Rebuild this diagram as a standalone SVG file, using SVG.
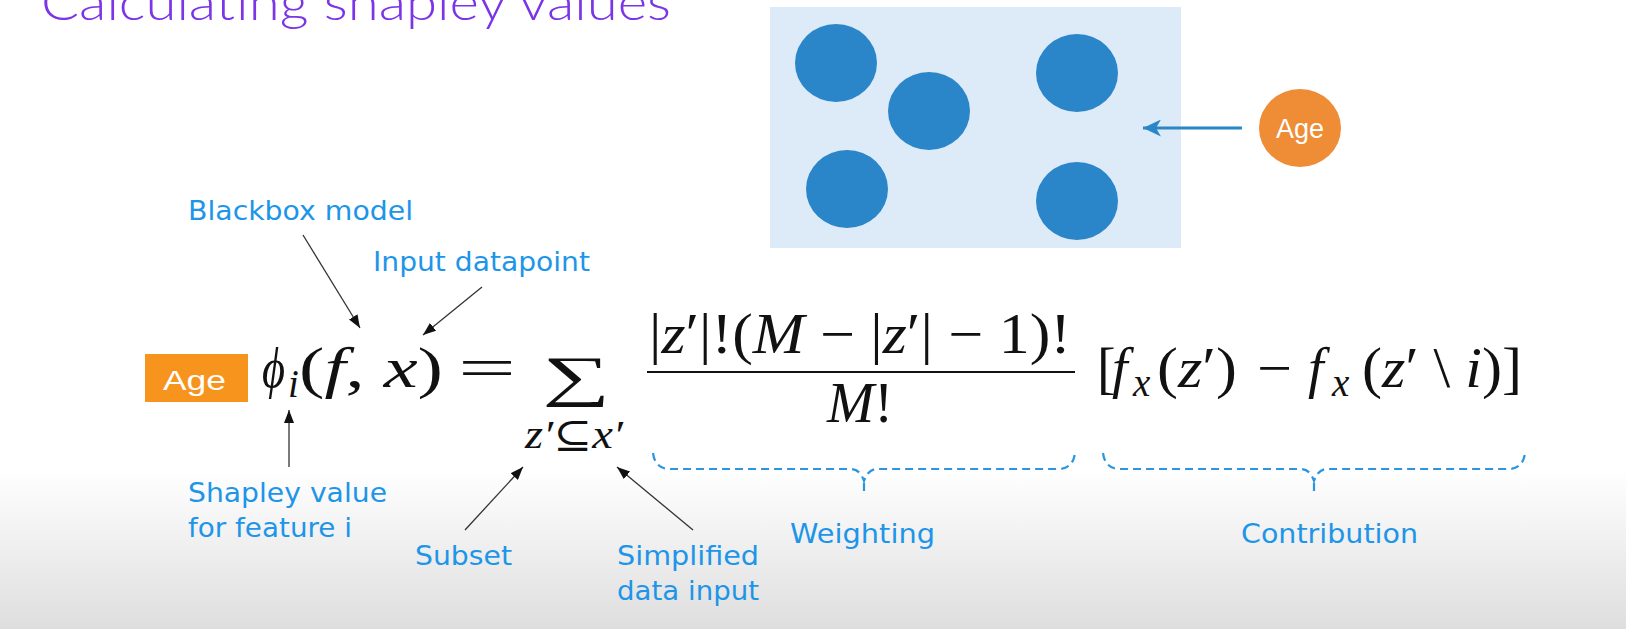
<svg xmlns="http://www.w3.org/2000/svg" width="1626" height="629" viewBox="0 0 1626 629">
<style>
.lbl{font-family:"DejaVu Sans","Liberation Sans",sans-serif;font-size:27px;fill:#1d95e8}
.math{font-family:"Liberation Serif","DejaVu Serif",serif;font-size:56px;fill:#111}
.sub{font-family:"Liberation Serif","DejaVu Serif",serif;font-size:39px;fill:#111;font-style:italic}
.it{font-style:italic}
.ann{stroke:#333;stroke-width:1.3;fill:none}
.brace{stroke:#2a95e0;stroke-width:2.2;fill:none;stroke-dasharray:8 5}
.dot{fill:#2a86c8}
</style>
<defs>
<linearGradient id="bg" x1="0" y1="0" x2="0" y2="1">
<stop offset="0" stop-color="#ffffff"/>
<stop offset="1" stop-color="#dedede"/>
</linearGradient>
<marker id="ah" markerUnits="userSpaceOnUse" markerWidth="13" markerHeight="10" refX="13" refY="5" orient="auto">
<path d="M0,0 L13,5 L0,10 z" fill="#111"/>
</marker>
<marker id="ahb" markerUnits="userSpaceOnUse" markerWidth="19" markerHeight="17" refX="18" refY="8.5" orient="auto">
<path d="M0,0 L18,8.5 L0,17 L5,8.5 z" fill="#2a86c8"/>
</marker>
</defs>
<rect x="0" y="0" width="1626" height="629" fill="#ffffff"/>
<rect x="0" y="470" width="1626" height="159" fill="url(#bg)"/>

<text id="title" x="41" y="20" font-family="Lato,'Open Sans',sans-serif" font-weight="300" font-size="50" fill="#7b34e6" textLength="630" lengthAdjust="spacingAndGlyphs">Calculating shapley values</text>

<g id="dataset">
<rect x="770" y="7" width="411" height="241" fill="#ddeaf7"/>
<ellipse class="dot" cx="836" cy="63" rx="41" ry="39"/>
<ellipse class="dot" cx="929" cy="111" rx="41" ry="39"/>
<ellipse class="dot" cx="847" cy="189" rx="41" ry="39"/>
<ellipse class="dot" cx="1077" cy="73" rx="41" ry="39"/>
<ellipse class="dot" cx="1077" cy="201" rx="41" ry="39"/>
</g>

<g id="age-circle">
<ellipse cx="1300" cy="128" rx="41" ry="39" fill="#ee8d35"/>
<text x="1300" y="138" text-anchor="middle" font-family="'Liberation Sans',Arial,sans-serif" font-size="27" fill="#ffffff">Age</text>
</g>

<g id="age-box">
<rect x="145" y="354" width="103" height="48" fill="#f7941d"/>
<text x="163" y="390" font-family="'Liberation Sans',Arial,sans-serif" font-size="27" fill="#ffffff" textLength="63" lengthAdjust="spacingAndGlyphs">Age</text>
</g>

<g id="formula">
<text class="math it" x="262" y="387" textLength="23" lengthAdjust="spacingAndGlyphs">ϕ</text>
<text class="sub" x="288" y="397">i</text>
<text class="math" x="299" y="387" textLength="144" lengthAdjust="spacingAndGlyphs">(<tspan class="it">f</tspan>, <tspan class="it">x</tspan>)</text>
<text class="math" x="458" y="387" textLength="58" lengthAdjust="spacingAndGlyphs">=</text>
<text class="math" x="542" y="395" font-size="86" textLength="68" lengthAdjust="spacingAndGlyphs">∑</text>
<text class="sub" x="525" y="448" textLength="98" lengthAdjust="spacingAndGlyphs">z′<tspan font-style="normal">⊆</tspan>x′</text>
<text class="math" x="649" y="353" textLength="422" lengthAdjust="spacingAndGlyphs">|<tspan class="it">z</tspan>′|!(<tspan class="it">M</tspan> − |<tspan class="it">z</tspan>′| − 1)!</text>
<line x1="647" y1="372" x2="1075" y2="372" stroke="#111" stroke-width="2.2"/>
<text class="math" x="827" y="422" textLength="66" lengthAdjust="spacingAndGlyphs"><tspan class="it">M</tspan>!</text>
<text class="math" x="1097" y="387">[</text>
<text class="math it" x="1112" y="387">f</text>
<text class="sub" x="1133" y="396">x</text>
<text class="math" x="1157" y="387" textLength="80" lengthAdjust="spacingAndGlyphs">(<tspan class="it">z</tspan>′)</text>
<text class="math" x="1257" y="387" textLength="35" lengthAdjust="spacingAndGlyphs">−</text>
<text class="math it" x="1308" y="387">f</text>
<text class="sub" x="1332" y="396">x</text>
<text class="math" x="1362" y="387" textLength="160" lengthAdjust="spacingAndGlyphs">(<tspan class="it">z</tspan>′ \ <tspan class="it">i</tspan>)]</text>
</g>

<g id="labels">
<text class="lbl" x="188" y="220" textLength="225" lengthAdjust="spacingAndGlyphs">Blackbox model</text>
<text class="lbl" x="373" y="271" textLength="217" lengthAdjust="spacingAndGlyphs">Input datapoint</text>
<text class="lbl" x="188" y="502" textLength="199" lengthAdjust="spacingAndGlyphs">Shapley value</text>
<text class="lbl" x="188" y="537" textLength="164" lengthAdjust="spacingAndGlyphs">for feature i</text>
<text class="lbl" x="415" y="565" textLength="97" lengthAdjust="spacingAndGlyphs">Subset</text>
<text class="lbl" x="617" y="565" textLength="142" lengthAdjust="spacingAndGlyphs">Simplified</text>
<text class="lbl" x="617" y="600" textLength="142" lengthAdjust="spacingAndGlyphs">data input</text>
<text class="lbl" x="790" y="543" textLength="145" lengthAdjust="spacingAndGlyphs">Weighting</text>
<text class="lbl" x="1241" y="543" textLength="177" lengthAdjust="spacingAndGlyphs">Contribution</text>
</g>

<g id="braces">
<path class="brace" d="M653,453 Q655,469 670,469 L851,469 Q860,469 864,481 Q868,469 877,469 L1058,469 Q1073,469 1075,453 M864,483 L864,495"/>
<path class="brace" d="M1103,453 Q1105,469 1120,469 L1301,469 Q1310,469 1314,481 Q1318,469 1327,469 L1508,469 Q1523,469 1525,453 M1314,483 L1314,495"/>
</g>

<g id="connectors">
<line class="ann" x1="303" y1="235" x2="360" y2="328" marker-end="url(#ah)"/>
<line class="ann" x1="482" y1="287" x2="423" y2="335" marker-end="url(#ah)"/>
<line class="ann" x1="289" y1="467" x2="289" y2="410" marker-end="url(#ah)"/>
<line class="ann" x1="465" y1="530" x2="523" y2="467" marker-end="url(#ah)"/>
<line class="ann" x1="693" y1="530" x2="617" y2="467" marker-end="url(#ah)"/>
<line x1="1242" y1="128" x2="1143" y2="128" stroke="#2a86c8" stroke-width="3" marker-end="url(#ahb)"/>
</g>
</svg>
